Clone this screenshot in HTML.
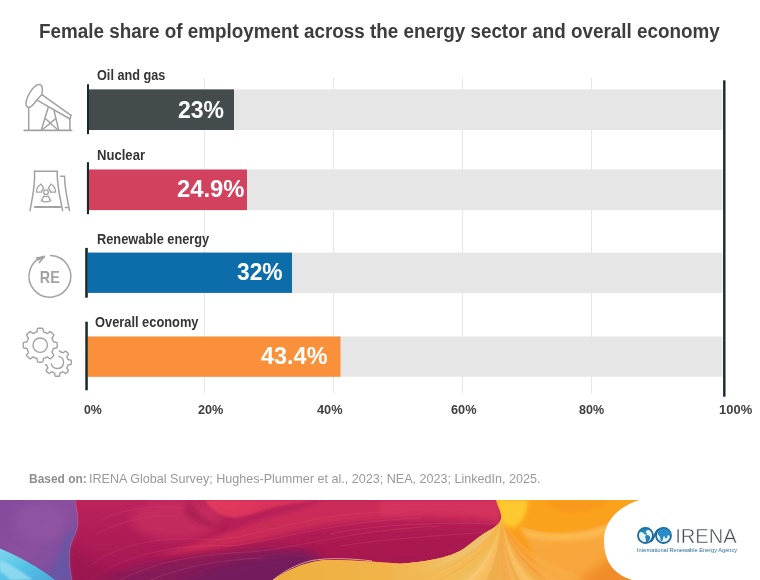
<!DOCTYPE html>
<html lang="en">
<head>
<meta charset="utf-8">
<title>Female share of employment across the energy sector and overall economy</title>
<style>
html,body{margin:0;padding:0;}
body{width:760px;height:580px;position:relative;overflow:hidden;background:#fff;font-family:"Liberation Sans",sans-serif;}
.abs{position:absolute;}
.t{position:absolute;white-space:nowrap;line-height:1;transform-origin:0 0;}
</style>
</head>
<body>
<svg class="abs" style="left:0;top:0" width="760" height="500" viewBox="0 0 760 500">
  <g stroke="#e6e6e6" stroke-width="1">
    <path d="M204.4 78V393.5M333.5 78V393.5M462.5 78V393.5M591.5 78V393.5"/>
  </g>
  <g fill="#e6e6e6">
    <rect x="89" y="89.4" width="633.5" height="40.6"/>
    <rect x="89" y="169.5" width="633.5" height="40.6"/>
    <rect x="87.8" y="252.6" width="634.7" height="40.3"/>
    <rect x="87.8" y="336.5" width="634.7" height="40.2"/>
  </g>
  <rect x="89" y="89.4" width="145" height="40.6" fill="#444b4d"/>
  <rect x="89" y="169.5" width="158" height="40.6" fill="#d2425f"/>
  <rect x="87.8" y="252.6" width="204.2" height="40.3" fill="#0d6dab"/>
  <rect x="87.8" y="336.5" width="252.7" height="40.3" fill="#fa903a"/>
  <g fill="#162a2c">
    <rect x="87" y="84.2" width="2" height="50"/>
    <rect x="86.9" y="162.2" width="2.1" height="52"/>
    <rect x="85.2" y="247.9" width="2.6" height="49.8"/>
    <rect x="85.3" y="321.7" width="2.5" height="68.6"/>
    <rect x="723.1" y="80.3" width="2.4" height="316.4"/>
  </g>
</svg>

<svg class="abs" style="left:0;top:60px" width="90" height="340" viewBox="0 60 90 340" fill="none" stroke="#a2a2a2" stroke-width="1.5" stroke-linecap="round" stroke-linejoin="round">
  <!-- oil pump jack -->
  <g>
    <path d="M24.3 130.4H71.5" stroke-width="1.9"/>
    <path d="M39.2 84.6C42.6 84.6 43 89.5 41.8 94.6L36.8 100C34 104 30 108.6 27.6 107.2C24.4 105.2 26.4 98.5 29.6 93.2C32.6 88.2 36.4 84.6 39.2 84.6Z"/>
    <path d="M28.7 107.6V130.2"/>
    <path d="M41.9 94.6L71 115.3"/>
    <path d="M37 100.2L70 119"/>
    <path d="M71 115.3L69.9 119V130.2"/>
    <path d="M48.4 106.8L41.3 130.2"/>
    <path d="M54 110.4L58.7 130.2"/>
    <path d="M45 118.2L58 130M56 118.4L42 130"/>
  </g>
  <!-- cooling tower -->
  <g>
    <path d="M34.5 171.2H57.2"/>
    <path d="M34.5 171.2C35.6 185 32.2 198 30 210.6"/>
    <path d="M57.2 171.2C56.8 185 60.2 198 62.6 210.6"/>
    <path d="M34.8 207H60.4" stroke-width="1.9"/>
    <path d="M60.6 176.3H64.6C64.4 188 67.4 199 69.5 210.6"/>
    <path d="M65.4 207.6H68.6"/>
    <circle cx="46" cy="192.2" r="2.3" stroke-width="1.3"/>
    <path d="M41.60 192.12L36.40 192.03A9.6 9.6 0 0 1 41.06 183.97L43.73 188.43A4.4 4.4 0 0 0 41.60 192.12Z" stroke-width="1.3"/>
    <path d="M48.27 188.43L50.94 183.97A9.6 9.6 0 0 1 55.60 192.03L50.40 192.12A4.4 4.4 0 0 0 48.27 188.43Z" stroke-width="1.3"/>
    <path d="M48.13 196.05L50.65 200.60A9.6 9.6 0 0 1 41.35 200.60L43.87 196.05A4.4 4.4 0 0 0 48.13 196.05Z" stroke-width="1.3"/>
  </g>
  <!-- RE circle -->
  <g>
    <path d="M50.63 255.41A20.9 20.9 0 1 1 44.14 256.21"/>
    <path d="M36.4 257.9L44.2 256.8L39.4 262.6"/>
    <path d="M44.2 256.8L38.6 259.8"/>
    <text x="49.8" y="282.7" text-anchor="middle" textLength="20" lengthAdjust="spacingAndGlyphs" font-family="Liberation Sans, sans-serif" font-weight="bold" font-size="17" fill="#a2a2a2" stroke="none">RE</text>
  </g>
  <!-- gears -->
  <g stroke-width="1.4">
    <path d="M57.2 345.2 L57.2 345.5 L57.2 345.8 L57.2 346.1 L57.2 346.4 L57.1 346.7 L57.1 347.0 L57.1 347.3 L57.0 347.6 L56.8 347.8 L56.2 348.0 L55.4 348.2 L54.6 348.3 L53.9 348.4 L53.5 348.5 L53.3 348.7 L53.3 348.9 L53.2 349.2 L53.1 349.4 L53.1 349.6 L53.0 349.9 L52.9 350.1 L52.8 350.3 L52.7 350.5 L52.6 350.7 L52.5 350.9 L52.4 351.2 L52.3 351.4 L52.2 351.6 L52.1 351.8 L52.0 352.0 L51.9 352.2 L52.1 352.6 L52.5 353.2 L53.1 353.9 L53.5 354.5 L53.8 355.1 L53.8 355.4 L53.6 355.7 L53.4 355.9 L53.2 356.1 L53.0 356.4 L52.8 356.6 L52.6 356.8 L52.4 357.0 L52.2 357.2 L52.0 357.4 L51.8 357.6 L51.6 357.8 L51.4 358.0 L51.1 358.2 L50.9 358.4 L50.7 358.6 L50.4 358.8 L50.1 358.8 L49.5 358.5 L48.9 358.1 L48.2 357.5 L47.6 357.1 L47.2 356.9 L47.0 357.0 L46.8 357.1 L46.6 357.2 L46.4 357.3 L46.2 357.4 L45.9 357.5 L45.7 357.6 L45.5 357.7 L45.3 357.8 L45.1 357.9 L44.9 358.0 L44.6 358.1 L44.4 358.1 L44.2 358.2 L43.9 358.3 L43.7 358.3 L43.5 358.5 L43.4 358.9 L43.3 359.6 L43.2 360.4 L43.0 361.2 L42.8 361.8 L42.6 362.0 L42.3 362.1 L42.0 362.1 L41.7 362.1 L41.4 362.2 L41.1 362.2 L40.8 362.2 L40.5 362.2 L40.2 362.2 L39.9 362.2 L39.6 362.2 L39.3 362.2 L39.0 362.2 L38.7 362.1 L38.4 362.1 L38.1 362.1 L37.8 362.0 L37.6 361.8 L37.4 361.2 L37.2 360.4 L37.1 359.6 L37.0 358.9 L36.9 358.5 L36.7 358.3 L36.5 358.3 L36.2 358.2 L36.0 358.1 L35.8 358.1 L35.5 358.0 L35.3 357.9 L35.1 357.8 L34.9 357.7 L34.7 357.6 L34.5 357.5 L34.2 357.4 L34.0 357.3 L33.8 357.2 L33.6 357.1 L33.4 357.0 L33.2 356.9 L32.8 357.1 L32.2 357.5 L31.5 358.1 L30.9 358.5 L30.3 358.8 L30.0 358.8 L29.7 358.6 L29.5 358.4 L29.3 358.2 L29.0 358.0 L28.8 357.8 L28.6 357.6 L28.4 357.4 L28.2 357.2 L28.0 357.0 L27.8 356.8 L27.6 356.6 L27.4 356.4 L27.2 356.1 L27.0 355.9 L26.8 355.7 L26.6 355.4 L26.6 355.1 L26.9 354.5 L27.3 353.9 L27.9 353.2 L28.3 352.6 L28.5 352.2 L28.4 352.0 L28.3 351.8 L28.2 351.6 L28.1 351.4 L28.0 351.2 L27.9 350.9 L27.8 350.7 L27.7 350.5 L27.6 350.3 L27.5 350.1 L27.4 349.9 L27.3 349.6 L27.3 349.4 L27.2 349.2 L27.1 348.9 L27.1 348.7 L26.9 348.5 L26.5 348.4 L25.8 348.3 L25.0 348.2 L24.2 348.0 L23.6 347.8 L23.4 347.6 L23.3 347.3 L23.3 347.0 L23.3 346.7 L23.2 346.4 L23.2 346.1 L23.2 345.8 L23.2 345.5 L23.2 345.2 L23.2 344.9 L23.2 344.6 L23.2 344.3 L23.2 344.0 L23.3 343.7 L23.3 343.4 L23.3 343.1 L23.4 342.8 L23.6 342.6 L24.2 342.4 L25.0 342.2 L25.8 342.1 L26.5 342.0 L26.9 341.9 L27.1 341.7 L27.1 341.5 L27.2 341.2 L27.3 341.0 L27.3 340.8 L27.4 340.5 L27.5 340.3 L27.6 340.1 L27.7 339.9 L27.8 339.7 L27.9 339.5 L28.0 339.2 L28.1 339.0 L28.2 338.8 L28.3 338.6 L28.4 338.4 L28.5 338.2 L28.3 337.8 L27.9 337.2 L27.3 336.5 L26.9 335.9 L26.6 335.3 L26.6 335.0 L26.8 334.7 L27.0 334.5 L27.2 334.3 L27.4 334.0 L27.6 333.8 L27.8 333.6 L28.0 333.4 L28.2 333.2 L28.4 333.0 L28.6 332.8 L28.8 332.6 L29.0 332.4 L29.3 332.2 L29.5 332.0 L29.7 331.8 L30.0 331.6 L30.3 331.6 L30.9 331.9 L31.5 332.3 L32.2 332.9 L32.8 333.3 L33.2 333.5 L33.4 333.4 L33.6 333.3 L33.8 333.2 L34.0 333.1 L34.2 333.0 L34.5 332.9 L34.7 332.8 L34.9 332.7 L35.1 332.6 L35.3 332.5 L35.5 332.4 L35.8 332.3 L36.0 332.3 L36.2 332.2 L36.5 332.1 L36.7 332.1 L36.9 331.9 L37.0 331.5 L37.1 330.8 L37.2 330.0 L37.4 329.2 L37.6 328.6 L37.8 328.4 L38.1 328.3 L38.4 328.3 L38.7 328.3 L39.0 328.2 L39.3 328.2 L39.6 328.2 L39.9 328.2 L40.2 328.2 L40.5 328.2 L40.8 328.2 L41.1 328.2 L41.4 328.2 L41.7 328.3 L42.0 328.3 L42.3 328.3 L42.6 328.4 L42.8 328.6 L43.0 329.2 L43.2 330.0 L43.3 330.8 L43.4 331.5 L43.5 331.9 L43.7 332.1 L43.9 332.1 L44.2 332.2 L44.4 332.3 L44.6 332.3 L44.9 332.4 L45.1 332.5 L45.3 332.6 L45.5 332.7 L45.7 332.8 L45.9 332.9 L46.2 333.0 L46.4 333.1 L46.6 333.2 L46.8 333.3 L47.0 333.4 L47.2 333.5 L47.6 333.3 L48.2 332.9 L48.9 332.3 L49.5 331.9 L50.1 331.6 L50.4 331.6 L50.7 331.8 L50.9 332.0 L51.1 332.2 L51.4 332.4 L51.6 332.6 L51.8 332.8 L52.0 333.0 L52.2 333.2 L52.4 333.4 L52.6 333.6 L52.8 333.8 L53.0 334.0 L53.2 334.3 L53.4 334.5 L53.6 334.7 L53.8 335.0 L53.8 335.3 L53.5 335.9 L53.1 336.5 L52.5 337.2 L52.1 337.8 L51.9 338.2 L52.0 338.4 L52.1 338.6 L52.2 338.8 L52.3 339.0 L52.4 339.2 L52.5 339.5 L52.6 339.7 L52.7 339.9 L52.8 340.1 L52.9 340.3 L53.0 340.5 L53.1 340.8 L53.1 341.0 L53.2 341.2 L53.3 341.5 L53.3 341.7 L53.5 341.9 L53.9 342.0 L54.6 342.1 L55.4 342.2 L56.2 342.4 L56.8 342.6 L57.0 342.8 L57.1 343.1 L57.1 343.4 L57.1 343.7 L57.2 344.0 L57.2 344.3 L57.2 344.6 L57.2 344.9 L57.2 345.2Z"/>
    <circle cx="40.2" cy="345.2" r="7.2"/>
    <path d="M59.8 350.6 L59.9 351.2 L60.0 351.6 L60.1 351.7 L60.3 351.7 L60.5 351.8 L60.7 351.8 L60.9 351.9 L61.1 352.0 L61.2 352.0 L61.4 352.1 L61.6 352.2 L61.8 352.3 L61.9 352.3 L62.1 352.4 L62.3 352.5 L62.5 352.6 L62.6 352.7 L62.8 352.8 L63.0 352.8 L63.3 352.6 L63.8 352.3 L64.4 351.8 L65.0 351.4 L65.4 351.1 L65.7 351.1 L65.9 351.3 L66.1 351.4 L66.3 351.6 L66.5 351.7 L66.7 351.9 L66.8 352.1 L67.0 352.2 L67.2 352.4 L67.4 352.6 L67.5 352.8 L67.7 352.9 L67.9 353.1 L68.0 353.3 L68.2 353.5 L68.3 353.7 L68.5 353.9 L68.5 354.2 L68.2 354.6 L67.8 355.2 L67.3 355.8 L67.0 356.3 L66.8 356.6 L66.8 356.8 L66.9 357.0 L67.0 357.1 L67.1 357.3 L67.2 357.5 L67.3 357.7 L67.3 357.8 L67.4 358.0 L67.5 358.2 L67.6 358.4 L67.6 358.5 L67.7 358.7 L67.8 358.9 L67.8 359.1 L67.9 359.3 L67.9 359.5 L68.0 359.6 L68.4 359.7 L69.0 359.8 L69.7 359.9 L70.4 360.0 L70.9 360.1 L71.2 360.4 L71.2 360.6 L71.2 360.8 L71.2 361.1 L71.3 361.3 L71.3 361.6 L71.3 361.8 L71.3 362.1 L71.3 362.3 L71.3 362.5 L71.3 362.8 L71.3 363.0 L71.3 363.3 L71.2 363.5 L71.2 363.8 L71.2 364.0 L71.2 364.2 L70.9 364.5 L70.4 364.6 L69.7 364.7 L69.0 364.8 L68.4 364.9 L68.0 365.0 L67.9 365.1 L67.9 365.3 L67.8 365.5 L67.8 365.7 L67.7 365.9 L67.6 366.1 L67.6 366.2 L67.5 366.4 L67.4 366.6 L67.3 366.8 L67.3 366.9 L67.2 367.1 L67.1 367.3 L67.0 367.5 L66.9 367.6 L66.8 367.8 L66.8 368.0 L67.0 368.3 L67.3 368.8 L67.8 369.4 L68.2 370.0 L68.5 370.4 L68.5 370.7 L68.3 370.9 L68.2 371.1 L68.0 371.3 L67.9 371.5 L67.7 371.7 L67.5 371.8 L67.4 372.0 L67.2 372.2 L67.0 372.4 L66.8 372.5 L66.7 372.7 L66.5 372.9 L66.3 373.0 L66.1 373.2 L65.9 373.3 L65.7 373.5 L65.4 373.5 L65.0 373.2 L64.4 372.8 L63.8 372.3 L63.3 372.0 L63.0 371.8 L62.8 371.8 L62.6 371.9 L62.5 372.0 L62.3 372.1 L62.1 372.2 L61.9 372.3 L61.8 372.3 L61.6 372.4 L61.4 372.5 L61.2 372.6 L61.1 372.6 L60.9 372.7 L60.7 372.8 L60.5 372.8 L60.3 372.9 L60.1 372.9 L60.0 373.0 L59.9 373.4 L59.8 374.0 L59.7 374.7 L59.6 375.4 L59.5 375.9 L59.2 376.2 L59.0 376.2 L58.8 376.2 L58.5 376.2 L58.3 376.3 L58.0 376.3 L57.8 376.3 L57.5 376.3 L57.3 376.3 L57.1 376.3 L56.8 376.3 L56.6 376.3 L56.3 376.3 L56.1 376.2 L55.8 376.2 L55.6 376.2 L55.4 376.2 L55.1 375.9 L55.0 375.4 L54.9 374.7 L54.8 374.0 L54.7 373.4 L54.6 373.0 L54.5 372.9 L54.3 372.9 L54.1 372.8 L53.9 372.8 L53.7 372.7 L53.5 372.6 L53.4 372.6 L53.2 372.5 L53.0 372.4 L52.8 372.3 L52.7 372.3 L52.5 372.2 L52.3 372.1 L52.1 372.0 L52.0 371.9 L51.8 371.8 L51.6 371.8 L51.3 372.0 L50.8 372.3 L50.2 372.8 L49.6 373.2 L49.2 373.5 L48.9 373.5 L48.7 373.3 L48.5 373.2 L48.3 373.0 L48.1 372.9 L47.9 372.7 L47.8 372.5 L47.6 372.4 L47.4 372.2 L47.2 372.0 L47.1 371.8 L46.9 371.7 L46.7 371.5 L46.6 371.3 L46.4 371.1 L46.3 370.9 L46.1 370.7 L46.1 370.4 L46.4 370.0 L46.8 369.4 L47.3 368.8 L47.6 368.3 L47.8 368.0 L47.8 367.8 L47.7 367.6 L47.6 367.5 L47.5 367.3 L47.4 367.1 L47.3 366.9 L47.3 366.8 L47.2 366.6 L47.1 366.4 L47.0 366.2 L47.0 366.1 L46.9 365.9 L46.8 365.7 L46.8 365.5 L46.7 365.3 L46.7 365.1 L46.6 365.0 L46.2 364.9 L45.6 364.8"/>
    <path d="M58.90 356.31A6.2 6.2 0 1 1 51.31 363.90"/>
  </g>
</svg>

<div class="t" id="title" style="left:39.07px;top:21.07px;font-size:20px;font-weight:bold;color:#3d3d3d;transform:scaleX(0.9421)">Female share of employment across the energy sector and overall economy</div>
<div class="t" id="l1" style="left:97.18px;top:68.45px;font-size:14px;font-weight:bold;color:#353535;transform:scaleX(0.9054)">Oil and gas</div>
<div class="t" id="l2" style="left:97.21px;top:148.45px;font-size:14px;font-weight:bold;color:#353535;transform:scaleX(0.9348)">Nuclear</div>
<div class="t" id="l3" style="left:97.28px;top:231.65px;font-size:14px;font-weight:bold;color:#353535;transform:scaleX(0.9128)">Renewable energy</div>
<div class="t" id="l4" style="left:94.85px;top:315.45px;font-size:14px;font-weight:bold;color:#353535;transform:scaleX(0.9174)">Overall economy</div>
<div class="t" id="v1" style="left:177.52px;top:98.08px;font-size:24px;font-weight:bold;color:#ffffff;transform:scaleX(0.9582)">23%</div>
<div class="t" id="v2" style="left:177.42px;top:177.08px;font-size:24px;font-weight:bold;color:#ffffff;transform:scaleX(0.9908)">24.9%</div>
<div class="t" id="v3" style="left:237.31px;top:259.88px;font-size:24px;font-weight:bold;color:#ffffff;transform:scaleX(0.9504)">32%</div>
<div class="t" id="v4" style="left:261.23px;top:343.88px;font-size:24px;font-weight:bold;color:#ffffff;transform:scaleX(0.9773)">43.4%</div>
<div class="t" id="k0" style="left:84.13px;top:403.20px;font-size:13px;font-weight:bold;color:#404040;transform:scaleX(0.9508)">0%</div>
<div class="t" id="k1" style="left:197.89px;top:403.20px;font-size:13px;font-weight:bold;color:#404040;transform:scaleX(0.9754)">20%</div>
<div class="t" id="k2" style="left:316.80px;top:403.20px;font-size:13px;font-weight:bold;color:#404040;transform:scaleX(0.9811)">40%</div>
<div class="t" id="k3" style="left:451.18px;top:403.20px;font-size:13px;font-weight:bold;color:#404040;transform:scaleX(0.9801)">60%</div>
<div class="t" id="k4" style="left:578.90px;top:403.20px;font-size:13px;font-weight:bold;color:#404040;transform:scaleX(0.9652)">80%</div>
<div class="t" id="k5" style="left:718.98px;top:403.20px;font-size:13px;font-weight:bold;color:#404040;transform:scaleX(0.9972)">100%</div>
<div class="t" id="f1" style="left:28.98px;top:472.20px;font-size:13px;font-weight:bold;color:#8f8f8f;transform:scaleX(0.9197)">Based on:</div>
<div class="t" id="f2" style="left:88.94px;top:472.20px;font-size:13px;font-weight:normal;color:#999999;transform:scaleX(0.9671)">IRENA Global Survey; Hughes-Plummer et al., 2023; NEA, 2023; LinkedIn, 2025.</div>
<svg class="abs" style="left:0;top:500px" width="760" height="80" viewBox="0 0 760 80">
<defs>
  <linearGradient id="gCrim" x1="0" y1="0" x2="0" y2="1">
    <stop offset="0" stop-color="#bd245a"/><stop offset="0.5" stop-color="#b01c54"/><stop offset="1" stop-color="#9e1650"/>
  </linearGradient>
  <linearGradient id="gPurp" x1="0" y1="0" x2="1" y2="1">
    <stop offset="0" stop-color="#864a9a"/><stop offset="0.5" stop-color="#8a4f9e"/><stop offset="1" stop-color="#74509f"/>
  </linearGradient>
  <linearGradient id="gCyan" x1="0" y1="0" x2="1" y2="1">
    <stop offset="0" stop-color="#7fd6ee"/><stop offset="0.5" stop-color="#55c3e6"/><stop offset="1" stop-color="#4aa8d8"/>
  </linearGradient>
  <linearGradient id="gOrange" x1="0" y1="0" x2="1" y2="1">
    <stop offset="0" stop-color="#fdb926"/><stop offset="0.35" stop-color="#fba31c"/><stop offset="1" stop-color="#f28a1f"/>
  </linearGradient>
  <linearGradient id="gGold" gradientUnits="userSpaceOnUse" x1="273" y1="0" x2="470" y2="0">
    <stop offset="0" stop-color="#efb040"/><stop offset="0.5" stop-color="#f0b348" /><stop offset="0.75" stop-color="#f2b850" stop-opacity="0.8"/><stop offset="1" stop-color="#f3be5c" stop-opacity="0"/>
  </linearGradient>
  <linearGradient id="gPink" x1="0" y1="0" x2="1" y2="0.3">
    <stop offset="0" stop-color="#e43c5e"/><stop offset="1" stop-color="#d42c58"/>
  </linearGradient>
  <filter id="b2" x="-20%" y="-20%" width="140%" height="140%"><feGaussianBlur stdDeviation="2"/></filter>
  <filter id="b4" x="-20%" y="-20%" width="140%" height="140%"><feGaussianBlur stdDeviation="4"/></filter>
  <filter id="b1" x="-20%" y="-20%" width="140%" height="140%"><feGaussianBlur stdDeviation="0.8"/></filter>
  <filter id="b05" x="-5%" y="-5%" width="110%" height="110%"><feGaussianBlur stdDeviation="0.5"/></filter>
  <clipPath id="bc"><rect width="760" height="80"/></clipPath>
  <clipPath id="fanc"><path d="M496 0C498 8 502 13 501 19C499 26 491 29 483 34C476 39 470 44 464 48.400C455 54 445 57 435.500 59C424 61.500 412 63 400 63.800C380 62 350 60 330 60C310 60 290 68 273 80H760V0Z"/></clipPath>
</defs>
<g clip-path="url(#bc)">
  <rect width="760" height="80" fill="url(#gCrim)"/>
  <!-- ribbon lighter band -->
  <path d="M150 56C205 44 245 22 290 12C305 8 315 4 322 0H500V24C430 16 370 18 322 26C270 36 220 54 150 56Z" fill="#cf2d58" opacity="0.8" filter="url(#b2)"/>
  <path d="M380 0H497C499 8 501 14 500 20C470 12 430 12 380 16Z" fill="#dc3a62" opacity="0.55" filter="url(#b2)"/>
  <!-- darker middle band right -->
  <path d="M300 42C360 30 430 28 500 32L470 50C430 62 380 60 330 58Z" fill="#a8184e" opacity="0.55" filter="url(#b4)"/>
  <!-- dark magenta bottom -->
  <path d="M70 90C110 68 170 60 220 54C262 48 300 46 318 54C332 62 310 72 285 90Z" fill="#821a5a" opacity="0.9" filter="url(#b4)"/>
  <path d="M170 90C205 68 250 58 296 55C318 55 316 66 286 90Z" fill="#6e1c5e" opacity="0.8" filter="url(#b4)"/>
  <!-- bright pink blob top -->
  <path d="M205 0C208 8 216 14 228 17C240 19 252 14 268 9C285 4 305 2 322 0Z" fill="url(#gPink)" filter="url(#b1)"/>
  <!-- streaks -->
  <g fill="none" stroke="#e86a8a" stroke-width="0.7" opacity="0.28">
    <path d="M84 70C120 40 170 36 215 40C260 36 300 16 380 12"/>
    <path d="M90 80C130 52 180 44 230 46C280 40 330 22 420 18"/>
    <path d="M120 80C160 60 200 54 250 52C300 48 350 30 440 26"/>
    <path d="M150 80C185 66 220 60 262 58"/>
    <path d="M100 20C130 6 170 4 196 10"/>
    <path d="M96 34C130 16 170 12 200 20"/>
    <path d="M330 34C380 24 440 22 498 24"/>
    <path d="M340 46C390 38 440 36 488 32"/>
  </g>
  <!-- magenta tint near purple -->
  <path d="M70 0H205C198 20 196 36 180 50C150 70 110 80 70 84Z" fill="#b01c66" opacity="0.15" filter="url(#b4)"/>
  <ellipse cx="176" cy="20" rx="44" ry="20" fill="#d03463" opacity="0.55" filter="url(#b4)"/>
  <path d="M68 40C78 56 100 70 130 84H60Z" fill="#98164e" opacity="0.6" filter="url(#b4)"/>
  <path d="M188 0C196 10 204 24 226 26C214 30 196 26 184 12Z" fill="#98164a" opacity="0.5" filter="url(#b2)"/>
  <!-- purple -->
  <path d="M0 0H75.500C76 8 78.500 15 78 23C77 33 70 42 69.500 52C69 62 70 72 72 80H0Z" fill="url(#gPurp)"/>
  <ellipse cx="40" cy="22" rx="26" ry="20" fill="#9758a8" opacity="0.55" filter="url(#b4)"/>
  <path d="M78 23C77 33 70 42 69.500 52C69 62 70 72 72 80H40C54 72 58 56 62 44C66 34 74 30 78 23Z" fill="#6258a8" opacity="0.7" filter="url(#b2)"/>
  <path d="M75.500 0C76 8 78.500 15 78 23C77 33 70 42 69.500 52C69 62 70 72 72 80" fill="none" stroke="#e0668c" stroke-width="0.8" opacity="0.6"/>
  <!-- cyan -->
  <path d="M0 48.500C20 57 40 68 55 80H0Z" fill="url(#gCyan)"/>
  <path d="M0 60C12 65 24 73 33 80H10C7 76 3 73 0 71Z" fill="#a2e2f4" opacity="0.7" filter="url(#b1)"/>
  <!-- orange base + fan -->
  <g clip-path="url(#fanc)">
    <rect x="260" y="0" width="500" height="80" fill="url(#gOrange)"/>
    <g filter="url(#b05)">
<path d="M502 14Q488.8 45.0 392.0 64.0L392.0 70.9Q488.8 49.3 502 14Z" fill="#efc274"/>
<path d="M502 14Q488.8 48.7 392.0 69.9L392.0 76.8Q488.8 52.9 502 14Z" fill="#edc06e"/>
<path d="M502 14Q488.8 52.3 392.0 75.8L392.0 82.7Q488.8 56.6 502 14Z" fill="#f1c370"/>
<path d="M502 14Q488.8 56.0 392.0 81.8L394.6 86.0Q489.1 58.6 502 14Z" fill="#eebf66"/>
<path d="M502 14Q489.0 58.6 393.7 86.0L400.6 86.0Q489.8 58.6 502 14Z" fill="#edba5d"/>
<path d="M502 14Q489.7 58.6 399.6 86.0L406.5 86.0Q490.5 58.6 502 14Z" fill="#f1bc5e"/>
<path d="M502 14Q490.4 58.6 405.6 86.0L412.4 86.0Q491.3 58.6 502 14Z" fill="#f7c062"/>
<path d="M502 14Q491.1 58.6 411.5 86.0L418.3 86.0Q492.0 58.6 502 14Z" fill="#f5bb58"/>
<path d="M502 14Q491.8 58.6 417.4 86.0L424.3 86.0Q492.7 58.6 502 14Z" fill="#f5bb56"/>
<path d="M502 14Q492.6 58.6 423.3 86.0L430.2 86.0Q493.4 58.6 502 14Z" fill="#eeb64e"/>
<path d="M502 14Q493.3 58.6 429.2 86.0L436.1 86.0Q494.1 58.6 502 14Z" fill="#f3bd5a"/>
<path d="M502 14Q494.0 58.6 435.2 86.0L442.0 86.0Q494.8 58.6 502 14Z" fill="#f0bc58"/>
<path d="M502 14Q494.7 58.6 441.1 86.0L448.0 86.0Q495.5 58.6 502 14Z" fill="#efbd5a"/>
<path d="M502 14Q495.4 58.6 447.0 86.0L453.9 86.0Q496.2 58.6 502 14Z" fill="#efbf5d"/>
<path d="M502 14Q496.1 58.6 452.9 86.0L459.8 86.0Q496.9 58.6 502 14Z" fill="#f1c263"/>
<path d="M502 14Q496.8 58.6 458.9 86.0L465.7 86.0Q497.6 58.6 502 14Z" fill="#fac86f"/>
<path d="M502 14Q497.5 58.6 464.8 86.0L471.7 86.0Q498.4 58.6 502 14Z" fill="#f8c368"/>
<path d="M502 14Q498.2 58.6 470.7 86.0L477.6 86.0Q499.1 58.6 502 14Z" fill="#f7bf63"/>
<path d="M502 14Q499.0 58.6 476.6 86.0L483.5 86.0Q499.8 58.6 502 14Z" fill="#f7bb5f"/>
<path d="M502 14Q499.7 58.6 482.6 86.0L489.4 86.0Q500.5 58.6 502 14Z" fill="#eeb04d"/>
<path d="M502 14Q500.4 58.6 488.5 86.0L495.4 86.0Q501.2 58.6 502 14Z" fill="#efad4c"/>
<path d="M502 14Q501.1 58.6 494.4 86.0L501.3 86.0Q501.9 58.6 502 14Z" fill="#f2ad4f"/>
<path d="M502 14Q501.8 58.6 500.4 86.0L507.2 86.0Q502.6 58.6 502 14Z" fill="#f3a94d"/>
<path d="M502 14Q502.5 58.6 506.3 86.0L513.1 86.0Q503.3 58.6 502 14Z" fill="#f4aa4f"/>
<path d="M502 14Q503.2 58.6 512.2 86.0L519.1 86.0Q504.0 58.6 502 14Z" fill="#f7b257"/>
<path d="M502 14Q503.9 58.6 518.1 86.0L525.0 86.0Q504.8 58.6 502 14Z" fill="#efaf4d"/>
<path d="M502 14Q504.6 58.6 524.0 86.0L530.9 86.0Q505.5 58.6 502 14Z" fill="#f8bd60"/>
<path d="M502 14Q505.4 58.6 530.0 86.0L536.8 86.0Q506.2 58.6 502 14Z" fill="#fac164"/>
<path d="M502 14Q506.1 58.6 535.9 86.0L542.8 86.0Q506.9 58.6 502 14Z" fill="#f7b959"/>
<path d="M502 14Q506.8 58.6 541.8 86.0L548.7 86.0Q507.6 58.6 502 14Z" fill="#f2ae49"/>
<path d="M502 14Q507.5 58.6 547.8 86.0L554.6 86.0Q508.3 58.6 502 14Z" fill="#f5ab48"/>
<path d="M502 14Q508.2 58.6 553.7 86.0L560.5 86.0Q509.0 58.6 502 14Z" fill="#efa037"/>
<path d="M502 14Q508.9 58.6 559.6 86.0L566.5 86.0Q509.7 58.6 502 14Z" fill="#faa845"/>
<path d="M502 14Q509.6 58.6 565.5 86.0L572.4 86.0Q510.4 58.6 502 14Z" fill="#faa741"/>
<path d="M502 14Q510.3 58.6 571.5 86.0L578.3 86.0Q511.2 58.6 502 14Z" fill="#f6a339"/>
<path d="M502 14Q511.0 58.6 577.4 86.0L584.2 86.0Q511.9 58.6 502 14Z" fill="#f39f31"/>
<path d="M502 14Q511.8 58.6 583.3 86.0L590.2 86.0Q512.6 58.6 502 14Z" fill="#fca73d"/>
<path d="M502 14Q512.5 58.6 589.2 86.0L596.1 86.0Q513.3 58.6 502 14Z" fill="#f8a334"/>
<path d="M502 14Q513.2 58.6 595.1 86.0L602.0 86.0Q514.0 58.6 502 14Z" fill="#fca739"/>
<path d="M502 14Q513.9 58.6 601.1 86.0L607.9 86.0Q514.7 58.6 502 14Z" fill="#fca737"/>
    </g>
    <path d="M260 90V40H470V90Z" fill="url(#gGold)"/>
    <!-- paler orange lower region right of fan -->
    <path d="M524 30C560 40 600 32 640 14V90H545C540 70 530 50 524 30Z" fill="#f9ae4c" opacity="0.7" filter="url(#b2)"/>
    <path d="M570 90C590 70 604 60 625 52L640 90Z" fill="#ee8424" opacity="0.7" filter="url(#b4)"/>
    <!-- highlight under ball -->
    <path d="M520 26C540 34 570 36 596 28C610 24 620 18 630 10V24C610 38 560 46 524 36Z" fill="#fcc25a" opacity="0.7" filter="url(#b2)"/>
    <!-- bright ball top right of origin -->
    <path d="M505 0C508 12 514 22 524 27C540 33 566 34 590 26C608 20 622 12 632 0Z" fill="#fba21c" filter="url(#b05)"/>
    <path d="M545 0C552 10 566 14 582 12C598 10 606 4 610 0Z" fill="#f6921a" opacity="0.55" filter="url(#b2)"/>
    <path d="M496 0C498 8 502 13 501 19C503 25 509 28 516 27C524 20 528 8 528 0Z" fill="#fdcc30" opacity="0.95" filter="url(#b2)"/>
  </g>
  <!-- gold blob -->
  <path d="M273 80C284 71 296 64.500 312 60.500C330 57.500 352 58.500 372 61" fill="none" stroke="#f8d0b0" stroke-width="0.9" opacity="0.8"/>
  <!-- white blob -->
  <path d="M640 0C618 6 604 22 604 40C604 60 612 74 632.500 80H760V0Z" fill="#ffffff"/>
</g>
<!-- IRENA logo -->
<g>
  <circle cx="645.500" cy="35.500" r="7.500" fill="#e6f5fb" stroke="#1d6896" stroke-width="1.800"/>
  <circle cx="663.500" cy="35.500" r="7.500" fill="#e6f5fb" stroke="#1d6896" stroke-width="1.800"/>
  <path d="M639.600 31.600c1-2 3.600-3.400 6.400-3.200c1.400 0.200 2.200 0.800 1.400 1.800c-0.800 0.600-1.600 0.800-1.800 1.800c0.200 1 1.200 1.200 1.800 2c-0.800 1-2.400 0.800-3.200-0.200c-0.600-0.800-1-1.600-2-1.600c-1 0.200-1.800 0-2.600-0.600z" fill="#2383b8"/>
  <path d="M646 35.200c1.800-0.400 3.600 0.400 4.200 2c0.200 1.800-1 2.800-1.800 4c-0.600 1-1.200 1.800-2 1.600c-0.600-1.400-0.400-2.800-0.800-4.200c-0.600-1.200-0.600-2.600 0.400-3.400z" fill="#2383b8"/>
  <path d="M657.600 32.400c1-2.400 4-4 7-3.800c2.600 0.200 5 1.800 5.800 4.200c0.400 1.400 0.400 2.800-0.400 3.600c-0.800-0.400-1-1.400-1.800-1.400c-0.800 0.600-0.600 2-1.400 3c-0.600 0.800-1.600 0.600-1.800-0.400c-0.200-0.800-0.600-1.400-1.400-1.200c-0.600 1.200-0.400 3-1.200 4.400c-0.600 0.800-1.600 0.600-1.800-0.400c-0.400-1.600-0.200-3-1-4.200c-1-1-2.200-2-2-3.800z" fill="#2a8cc6"/>
  <path d="M650.300 41.800C655.200 39 653.800 32 658.700 29.200" stroke="#1d6896" stroke-width="1.900" fill="none"/>
  <text x="675.200" y="43" font-family="Liberation Sans, sans-serif" font-size="20.600" fill="#454e57" stroke="#ffffff" stroke-width="0.450" textLength="61.600" lengthAdjust="spacingAndGlyphs">IRENA</text>
  <text x="637" y="52" font-family="Liberation Sans, sans-serif" font-size="5.800" fill="#276d9e" textLength="100" lengthAdjust="spacingAndGlyphs">International Renewable Energy Agency</text>
</g>
</svg>

</body>
</html>
